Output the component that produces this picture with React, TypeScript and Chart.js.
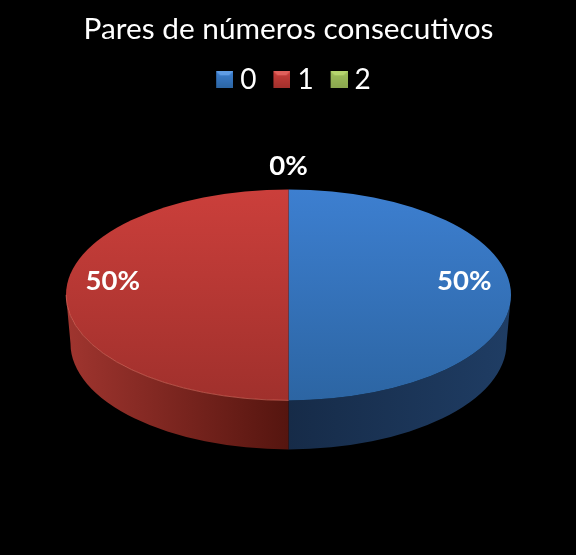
import { useEffect, useRef } from "react";
import { Chart, registerables } from "chart.js";

Chart.register(...registerables);

const categories = ["0", "1", "2"];
const values = [50, 50, 0];
const chartTitle = "Pares de números consecutivos";

const topColors = ["#3d7fd0", "#cb3f3b", "#9fc05c"];
const bottomColors = ["#2c65a3", "#a0302c", "#8aa64e"];
const swatchLight = ["#5f9ce4", "#e0605b", "#b6d56e"];
const sideLight = ["#1f3d64", "#a0352f", "#6a8038"];
const sideDark = ["#162b48", "#55150f", "#48572a"];

const fontFamily = "Lato, 'Open Sans', sans-serif";
const squash = 105.5 / 222.5;

// swatch sits in the right half of a transparent canvas, the legend centres the image
const makeSwatch = (i: number) => {
  const c = document.createElement("canvas");
  c.width = 34;
  c.height = 17;
  const g = c.getContext("2d")!;
  const grad = g.createLinearGradient(0, 0, 0, 17);
  grad.addColorStop(0, topColors[i]);
  grad.addColorStop(1, bottomColors[i]);
  g.fillStyle = grad;
  g.fillRect(17, 0, 17, 17);
  g.fillStyle = swatchLight[i];
  g.beginPath();
  g.moveTo(17, 0);
  g.lineTo(34, 0);
  g.lineTo(30, 4);
  g.lineTo(21, 4);
  g.closePath();
  g.fill();
  return c;
};

// squashes the pie into an ellipse and adds the side wall
const tiltPlugin = {
  id: "tilt",
  beforeDatasetsDraw(chart: any) {
    const ctx = chart.ctx;
    const arcs = chart.getDatasetMeta(0).data;
    arcs.forEach((arc: any, i: number) => {
      const from = Math.max(arc.startAngle, 0);
      const to = Math.min(arc.endAngle, Math.PI);
      if (to <= from || values[i] === 0) return;
      const r = arc.outerRadius;
      const grad = ctx.createLinearGradient(arc.x - r, 0, arc.x + r, 0);
      if (i === 0) {
        grad.addColorStop(0.5, sideDark[i]);
        grad.addColorStop(1, sideLight[i]);
      } else {
        grad.addColorStop(0, sideLight[i]);
        grad.addColorStop(0.5, sideDark[i]);
      }
      ctx.save();
      ctx.fillStyle = grad;
      ctx.beginPath();
      ctx.ellipse(arc.x, arc.y, r, r * squash, 0, from, to);
      ctx.ellipse(arc.x, arc.y + 48.5, r - 4.5, r * squash + 0.5, 0, to, from, true);
      ctx.closePath();
      ctx.fill();
      ctx.restore();
    });
    const { x, y } = arcs[0];
    ctx.save();
    ctx.translate(x, y);
    ctx.scale(1, squash);
    ctx.translate(-x, -y);
  },
  afterDatasetsDraw(chart: any) {
    const ctx = chart.ctx;
    ctx.restore();
    const arcs = chart.getDatasetMeta(0).data;
    // thin light rim on the front edge
    arcs.forEach((arc: any, i: number) => {
      const from = Math.max(arc.startAngle, 0);
      const to = Math.min(arc.endAngle, Math.PI);
      if (to <= from || i !== 1) return;
      ctx.save();
      ctx.strokeStyle = "rgba(235,120,105,0.55)";
      ctx.lineWidth = 1;
      ctx.beginPath();
      ctx.ellipse(arc.x, arc.y, arc.outerRadius, arc.outerRadius * squash, 0, from, to);
      ctx.stroke();
      ctx.restore();
    });
    const total = values.reduce((a, b) => a + b, 0);
    ctx.save();
    ctx.fillStyle = "#fff";
    ctx.font = `bold 27.5px ${fontFamily}`;
    ctx.textAlign = "center";
    ctx.textBaseline = "middle";
    arcs.forEach((arc: any, i: number) => {
      const mid = (arc.startAngle + arc.endAngle) / 2;
      const r = arc.outerRadius;
      const label = `${Math.round((values[i] / total) * 100)}%`;
      if (values[i] === 0) {
        ctx.fillText(label, arc.x + Math.cos(mid) * r, arc.y + Math.sin(mid) * r * squash - 23);
      } else {
        ctx.fillText(label, arc.x + Math.cos(mid) * r * 0.79, arc.y + Math.sin(mid) * r * squash - 14);
      }
    });
    ctx.restore();
  },
};

const App = () => {
  const chartRef = useRef<HTMLCanvasElement>(null);

  useEffect(() => {
    if (!chartRef.current) return;

    const chart = new Chart(chartRef.current, {
      type: "pie",
      data: {
        labels: categories,
        datasets: [
          {
            data: values,
            radius: 222.5,
            borderWidth: 0,
            clip: false,
            backgroundColor: (c: any) => {
              const area = c.chart.chartArea;
              if (!area) return topColors[c.dataIndex];
              const mid = (area.top + area.bottom) / 2;
              const g = c.chart.ctx.createLinearGradient(0, mid - 222.5, 0, mid + 222.5);
              g.addColorStop(0, topColors[c.dataIndex]);
              g.addColorStop(1, bottomColors[c.dataIndex]);
              return g;
            },
          } as any,
        ],
      },
      options: {
        responsive: false,
        animation: false,
        devicePixelRatio: 1,
        events: [],
        layout: { padding: { bottom: 69, left: 1 } },
        plugins: {
          title: {
            display: true,
            text: chartTitle,
            color: "#fff",
            font: { family: fontFamily, size: 29.8, weight: "normal" },
            padding: { top: 12, bottom: 11 },
          },
          legend: {
            position: "top",
            labels: {
              color: "#fff",
              font: { family: fontFamily, size: 28 },
              usePointStyle: true,
              pointStyleWidth: 20,
              padding: 7,
              generateLabels: () =>
                categories.map((text, i) => ({
                  text,
                  fontColor: "#fff",
                  pointStyle: makeSwatch(i),
                  hidden: false,
                  index: i,
                })),
            },
          },
          tooltip: { enabled: false },
        },
      } as any,
      plugins: [tiltPlugin],
    });

    return () => chart.destroy();
  }, []);

  return (
    <div style={{ position: "fixed", left: 0, top: 0, width: 576, height: 555, background: "#000" }}>
      <canvas ref={chartRef} width={576} height={555} style={{ display: "block" }} />
    </div>
  );
};

export default App;
